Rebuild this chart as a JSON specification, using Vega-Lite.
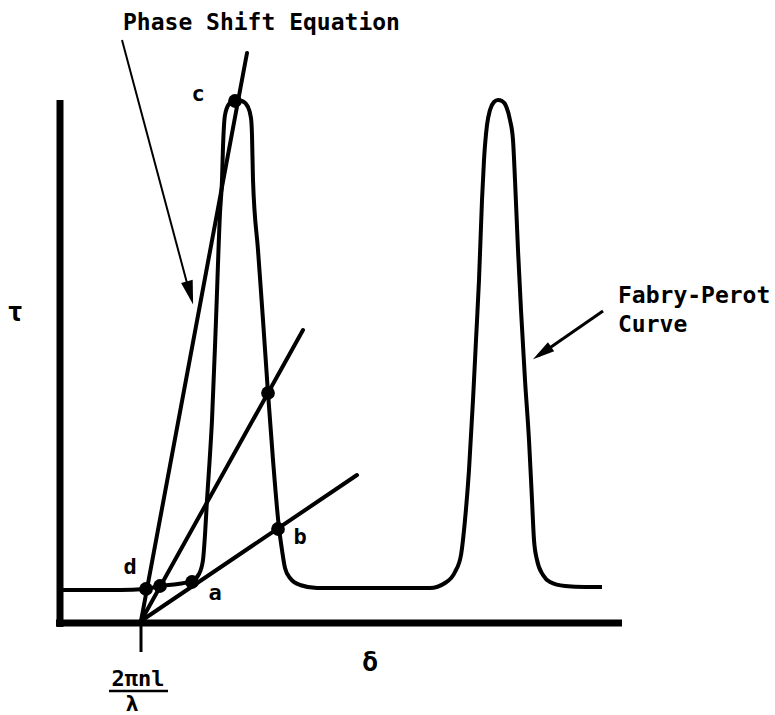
{
  "$schema": "https://vega.github.io/schema/vega-lite/v6.json",
  "width": 775,
  "height": 715,
  "autosize": "none",
  "padding": 0,
  "background": "white",
  "config": {"view": {"stroke": null}},
  "datasets": {
    "axes": [
      {"x": 0, "y": 523, "x2": 0, "y2": -4},
      {"x": -4, "y": 0, "x2": 562, "y2": 0}
    ],
    "tick": [{"x": 81, "y": 0, "x2": 81, "y2": -29}],
    "fraction": [{"x": 49, "y": -68, "x2": 108, "y2": -68}],
    "rays": [
      {"x": 81, "y": 2, "x2": 187, "y2": 570},
      {"x": 81, "y": 2, "x2": 243, "y2": 293},
      {"x": 81, "y": 2, "x2": 297, "y2": 148}
    ],
    "pointer1": [{"x": 62, "y": 583, "x2": 131, "y2": 325}],
    "pointer2": [{"x": 543, "y": 312, "x2": 478, "y2": 267}],
    "head1": [{"x": 130, "y": 330}],
    "head2": [{"x": 482, "y": 270}],
    "curve": [
      {"x": 0, "y": 33}, {"x": 60, "y": 33}, {"x": 85, "y": 34}, {"x": 100, "y": 37},
      {"x": 118, "y": 39}, {"x": 132, "y": 42}, {"x": 139, "y": 49}, {"x": 143, "y": 63},
      {"x": 145, "y": 88}, {"x": 147, "y": 123}, {"x": 149, "y": 153}, {"x": 152, "y": 203},
      {"x": 156, "y": 303}, {"x": 160, "y": 410}, {"x": 162, "y": 443}, {"x": 163, "y": 476},
      {"x": 165, "y": 508}, {"x": 169, "y": 519}, {"x": 175, "y": 523}, {"x": 182, "y": 522},
      {"x": 188, "y": 516}, {"x": 191, "y": 505}, {"x": 192, "y": 488}, {"x": 193, "y": 443},
      {"x": 198, "y": 373}, {"x": 203, "y": 303}, {"x": 208, "y": 230}, {"x": 213, "y": 163},
      {"x": 219, "y": 95}, {"x": 222, "y": 73}, {"x": 225, "y": 55}, {"x": 230, "y": 45},
      {"x": 240, "y": 38}, {"x": 257, "y": 35}, {"x": 340, "y": 35}, {"x": 370, "y": 35},
      {"x": 385, "y": 40}, {"x": 395, "y": 51}, {"x": 401, "y": 68}, {"x": 405, "y": 103},
      {"x": 409, "y": 153}, {"x": 413, "y": 223}, {"x": 416, "y": 283}, {"x": 419, "y": 343},
      {"x": 422, "y": 423}, {"x": 424, "y": 463}, {"x": 427, "y": 498}, {"x": 430, "y": 513},
      {"x": 434, "y": 521}, {"x": 438, "y": 523}, {"x": 442, "y": 522}, {"x": 446, "y": 517},
      {"x": 450, "y": 503}, {"x": 453, "y": 483}, {"x": 455, "y": 443}, {"x": 458, "y": 373},
      {"x": 461, "y": 313}, {"x": 465, "y": 243}, {"x": 469, "y": 183}, {"x": 472, "y": 123},
      {"x": 474, "y": 83}, {"x": 477, "y": 63}, {"x": 483, "y": 48}, {"x": 490, "y": 41},
      {"x": 505, "y": 37}, {"x": 525, "y": 36}, {"x": 542, "y": 36}
    ],
    "dots": [
      {"x": 175, "y": 522}, {"x": 86, "y": 34}, {"x": 100, "y": 37},
      {"x": 132, "y": 41}, {"x": 208, "y": 230}, {"x": 218, "y": 94}
    ],
    "letters": [
      {"x": 138, "y": 529, "t": "c"},
      {"x": 70, "y": 56, "t": "d"},
      {"x": 155, "y": 30, "t": "a"},
      {"x": 240, "y": 86, "t": "b"},
      {"x": 78, "y": -56, "t": "2πnl"},
      {"x": 72, "y": -81, "t": "λ"}
    ],
    "symbols": [
      {"x": -45, "y": 310, "t": "τ"},
      {"x": 310, "y": -40, "t": "δ"}
    ],
    "titles": [
      {"x": 63, "y": 593, "t": "Phase Shift Equation"},
      {"x": 558, "y": 320, "t": "Fabry-Perot"},
      {"x": 558, "y": 291, "t": "Curve"}
    ]
  },
  "encoding": {
    "x": {"field": "x", "type": "quantitative", "scale": {"domain": [-60, 715], "nice": false, "zero": false}, "axis": null},
    "y": {"field": "y", "type": "quantitative", "scale": {"domain": [-92, 623], "nice": false, "zero": false}, "axis": null}
  },
  "layer": [
    {
      "data": {"name": "axes"},
      "mark": {"type": "rule", "color": "black", "strokeWidth": 7},
      "encoding": {"x2": {"field": "x2"}, "y2": {"field": "y2"}}
    },
    {
      "data": {"name": "tick"},
      "mark": {"type": "rule", "color": "black", "strokeWidth": 3},
      "encoding": {"x2": {"field": "x2"}, "y2": {"field": "y2"}}
    },
    {
      "data": {"name": "fraction"},
      "mark": {"type": "rule", "color": "black", "strokeWidth": 2.5},
      "encoding": {"x2": {"field": "x2"}, "y2": {"field": "y2"}}
    },
    {
      "data": {"name": "rays"},
      "mark": {"type": "rule", "color": "black", "strokeWidth": 4, "strokeCap": "round"},
      "encoding": {"x2": {"field": "x2"}, "y2": {"field": "y2"}}
    },
    {
      "data": {"name": "pointer1"},
      "mark": {"type": "rule", "color": "black", "strokeWidth": 2},
      "encoding": {"x2": {"field": "x2"}, "y2": {"field": "y2"}}
    },
    {
      "data": {"name": "pointer2"},
      "mark": {"type": "rule", "color": "black", "strokeWidth": 3},
      "encoding": {"x2": {"field": "x2"}, "y2": {"field": "y2"}}
    },
    {
      "data": {"name": "head1"},
      "mark": {"type": "point", "shape": "M0,-1L0.5,1L-0.5,1Z", "filled": true, "color": "black", "opacity": 1, "size": 576, "angle": 165}
    },
    {
      "data": {"name": "head2"},
      "mark": {"type": "point", "shape": "M0,-1L0.5,1L-0.5,1Z", "filled": true, "color": "black", "opacity": 1, "size": 484, "angle": 235.5}
    },
    {
      "data": {"name": "curve"},
      "mark": {"type": "line", "color": "black", "strokeWidth": 4, "interpolate": "monotone", "strokeJoin": "round"}
    },
    {
      "data": {"name": "dots"},
      "mark": {"type": "circle", "color": "black", "opacity": 1, "size": 190}
    },
    {
      "data": {"name": "letters"},
      "mark": {"type": "text", "font": "DejaVu Sans Mono", "fontWeight": "bold", "fontSize": 22, "align": "center", "baseline": "middle", "color": "black"},
      "encoding": {"text": {"field": "t"}}
    },
    {
      "data": {"name": "symbols"},
      "mark": {"type": "text", "font": "DejaVu Sans Mono", "fontWeight": "bold", "fontSize": 27, "align": "center", "baseline": "middle", "color": "black"},
      "encoding": {"text": {"field": "t"}}
    },
    {
      "data": {"name": "titles"},
      "mark": {"type": "text", "font": "DejaVu Sans Mono", "fontWeight": "bold", "fontSize": 23, "align": "left", "baseline": "alphabetic", "color": "black"},
      "encoding": {"text": {"field": "t"}}
    }
  ]
}
